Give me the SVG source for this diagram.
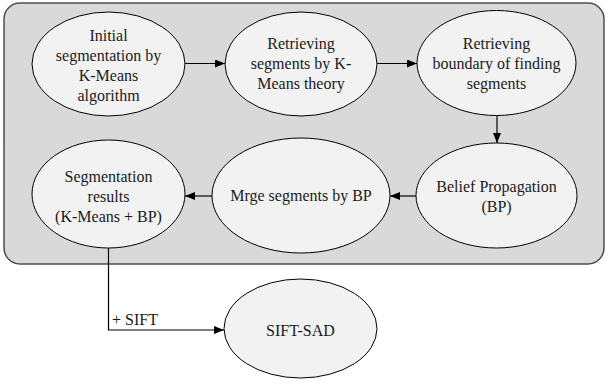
<svg xmlns="http://www.w3.org/2000/svg" width="606" height="385" viewBox="0 0 606 385">
<style>
.node ellipse{fill:#f2f2f2;stroke:#000;stroke-width:1}
.edge{fill:none;stroke:#000;stroke-width:1.2}
.txt text{fill:#1a1a1a}
</style>
<defs>
<marker id="ah" viewBox="0 0 10 8" refX="10" refY="4" markerWidth="10" markerHeight="8" markerUnits="userSpaceOnUse" orient="auto">
<path d="M0,0 L10,4 L0,8 Z" fill="#000"/>
</marker>
</defs>
<rect id="container" x="4" y="3" width="600" height="261" rx="16" ry="16" fill="#d9d9d9" stroke="#4d4d4d" stroke-width="1.5"/>
<g id="connectors" class="txt">
<line class="edge" x1="185" y1="63.5" x2="225" y2="63.5" marker-end="url(#ah)"/>
<line class="edge" x1="377" y1="63.5" x2="417" y2="63.5" marker-end="url(#ah)"/>
<line class="edge" x1="497" y1="115.5" x2="497" y2="143" marker-end="url(#ah)"/>
<line class="edge" x1="416" y1="196" x2="390" y2="196" marker-end="url(#ah)"/>
<line class="edge" x1="212" y1="196" x2="185" y2="196" marker-end="url(#ah)"/>
<polyline class="edge" points="108.5,248 108.5,330 224,330" marker-end="url(#ah)"/>
<text x="112" y="325" font-family="Liberation Serif, serif" font-size="16">+ SIFT</text>
</g>
<g class="txt" font-family="Liberation Serif, serif" font-size="16" text-anchor="middle">
<g id="n1" class="node">
<ellipse cx="108.5" cy="64" rx="76.5" ry="52"/>
<text x="108.5" y="40.5">Initial</text>
<text x="108.5" y="60.5">segmentation by</text>
<text x="108.5" y="80.5">K-Means</text>
<text x="108.5" y="100.5">algorithm</text>
</g>
<g id="n2" class="node">
<ellipse cx="301" cy="64" rx="76" ry="52"/>
<text x="301" y="48.5">Retrieving</text>
<text x="301" y="68.5">segments by K-</text>
<text x="301" y="88.5">Means theory</text>
</g>
<g id="n3" class="node">
<ellipse cx="496.5" cy="63" rx="79.5" ry="52.5"/>
<text x="496.5" y="48.5">Retrieving</text>
<text x="496.5" y="68.5">boundary of finding</text>
<text x="496.5" y="88.5">segments</text>
</g>
<g id="n4" class="node">
<ellipse cx="496.5" cy="195.5" rx="80.5" ry="52.5"/>
<text x="496.5" y="192">Belief Propagation</text>
<text x="496.5" y="211.5">(BP)</text>
</g>
<g id="n5" class="node">
<ellipse cx="301" cy="195.5" rx="89" ry="57.5"/>
<text x="301" y="200.5">Mrge segments by BP</text>
</g>
<g id="n6" class="node">
<ellipse cx="108.5" cy="194" rx="76.5" ry="54"/>
<text x="108.5" y="181.5">Segmentation</text>
<text x="108.5" y="201.5">results</text>
<text x="108.5" y="221.5">(K-Means + BP)</text>
</g>
<g id="n7" class="node">
<ellipse cx="300.5" cy="328.5" rx="76.5" ry="49.5"/>
<text x="300.5" y="335.5">SIFT-SAD</text>
</g>
</g>
</svg>
